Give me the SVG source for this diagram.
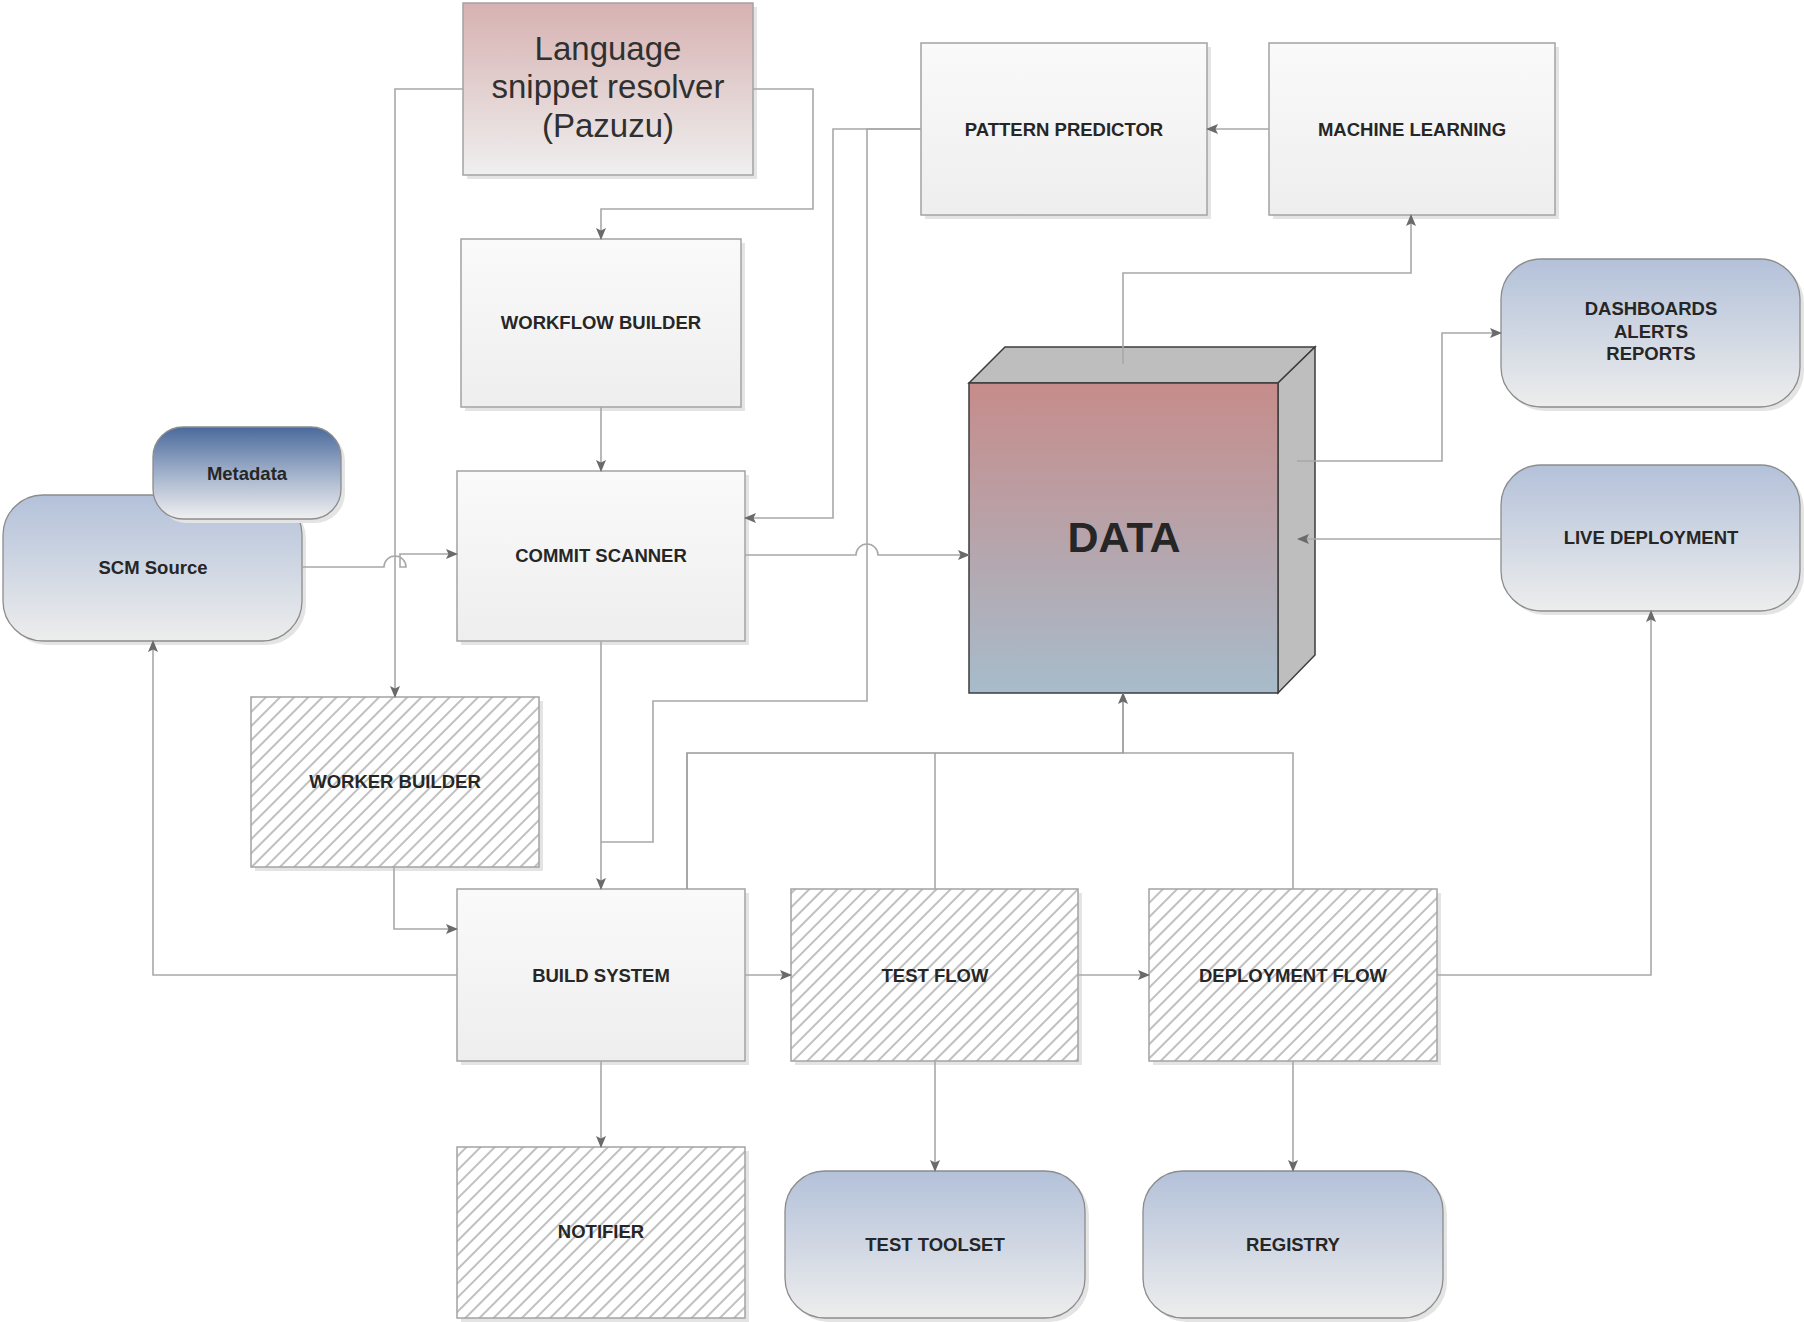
<svg xmlns="http://www.w3.org/2000/svg" width="1804" height="1322" viewBox="0 0 1804 1322">
<defs>
<linearGradient id="gBox" x1="0" y1="0" x2="0" y2="1"><stop offset="0" stop-color="#fafafa"/><stop offset="1" stop-color="#eeeeee"/></linearGradient>
<linearGradient id="gBlue" x1="0" y1="0" x2="0" y2="1"><stop offset="0" stop-color="#b3c1d9"/><stop offset="1" stop-color="#ededed"/></linearGradient>
<linearGradient id="gMeta" x1="0" y1="0" x2="0" y2="1"><stop offset="0" stop-color="#4a6a9c"/><stop offset="0.55" stop-color="#a9b7cf"/><stop offset="1" stop-color="#f0f0f0"/></linearGradient>
<linearGradient id="gLang" x1="0" y1="0" x2="0" y2="1"><stop offset="0" stop-color="#d7b1b1"/><stop offset="1" stop-color="#efefef"/></linearGradient>
<linearGradient id="gData" x1="0" y1="0" x2="0" y2="1"><stop offset="0" stop-color="#c68c8a"/><stop offset="1" stop-color="#a7bccb"/></linearGradient>
<pattern id="hatch" patternUnits="userSpaceOnUse" width="10" height="10" patternTransform="rotate(45)"><rect width="10" height="10" fill="#ffffff"/><line x1="1" y1="0" x2="1" y2="10" stroke="#ababab" stroke-width="1.5"/></pattern>
<marker id="arr" viewBox="0 0 12 10" refX="11" refY="5" markerWidth="12" markerHeight="10" markerUnits="userSpaceOnUse" orient="auto"><path d="M0,0 L12,5 L0,10 L2.5,5 z" fill="#6a6a6a"/></marker>
</defs>
<style>
.box{fill:url(#gBox);stroke:#a3a3a3;stroke-width:1.5}
.hatch{fill:url(#hatch);stroke:#a3a3a3;stroke-width:1.5}
.blue{fill:url(#gBlue);stroke:#8c8c8c;stroke-width:1.3}
.shadow{fill:#e4e4e4}
.lbl{font-family:"Liberation Sans",Arial,Helvetica,sans-serif;font-weight:bold;font-size:18.5px;fill:#262626;text-anchor:middle}
.big{font-family:"Liberation Sans",Arial,Helvetica,sans-serif;font-size:33px;fill:#303030;text-anchor:middle}
.con{fill:none;stroke:#a8a8a8;stroke-width:1.6}
.conD{fill:none;stroke:#999999;stroke-width:1.7}
</style>
<rect width="1804" height="1322" fill="#ffffff"/>

<g id="node-language">
<rect class="shadow" x="467" y="7" width="290" height="172"/>
<rect x="463" y="3" width="290" height="172" fill="url(#gLang)" stroke="#a3a3a3" stroke-width="1.5"/>
<text class="big" x="608" y="60">Language</text>
<text class="big" x="608" y="98">snippet resolver</text>
<text class="big" x="608" y="137">(Pazuzu)</text>
</g>

<g id="node-workflow-builder">
<rect class="shadow" x="465" y="243" width="280" height="168"/>
<rect class="box" x="461" y="239" width="280" height="168"/>
<text class="lbl" x="601" y="329">WORKFLOW BUILDER</text>
</g>

<g id="node-pattern-predictor">
<rect class="shadow" x="925" y="47" width="286" height="172"/>
<rect class="box" x="921" y="43" width="286" height="172"/>
<text class="lbl" x="1064" y="136">PATTERN PREDICTOR</text>
</g>

<g id="node-machine-learning">
<rect class="shadow" x="1273" y="47" width="286" height="172"/>
<rect class="box" x="1269" y="43" width="286" height="172"/>
<text class="lbl" x="1412" y="136">MACHINE LEARNING</text>
</g>

<g id="node-dashboards">
<rect class="shadow" x="1505" y="263" width="299" height="148" rx="40"/>
<rect class="blue" x="1501" y="259" width="299" height="148" rx="40"/>
<text class="lbl" x="1651" y="315">DASHBOARDS</text>
<text class="lbl" x="1651" y="338">ALERTS</text>
<text class="lbl" x="1651" y="360">REPORTS</text>
</g>

<g id="node-data">
<polygon points="969,383 1005,347 1315,347 1278,383" fill="#bebebe" stroke="#3c3c3c" stroke-width="1.5"/>
<polygon points="1278,383 1315,347 1315,655 1278,693" fill="#bebebe" stroke="#3c3c3c" stroke-width="1.5"/>
<rect x="969" y="383" width="309" height="310" fill="url(#gData)" stroke="#3c3c3c" stroke-width="1.5"/>
<text x="1124" y="552" font-family="Liberation Sans,Arial,Helvetica,sans-serif" font-weight="bold" font-size="43" fill="#262626" text-anchor="middle">DATA</text>
</g>

<g id="node-live-deployment">
<rect class="shadow" x="1505" y="469" width="299" height="146" rx="40"/>
<rect class="blue" x="1501" y="465" width="299" height="146" rx="40"/>
<text class="lbl" x="1651" y="544">LIVE DEPLOYMENT</text>
</g>

<g id="node-scm-source">
<rect class="shadow" x="7" y="499" width="299" height="146" rx="40"/>
<rect class="blue" x="3" y="495" width="299" height="146" rx="40"/>
<text class="lbl" x="153" y="574">SCM Source</text>
</g>

<g id="node-metadata">
<rect class="shadow" x="157" y="431" width="188" height="92" rx="30"/>
<rect x="153" y="427" width="188" height="92" rx="30" fill="url(#gMeta)" stroke="#8c8c8c" stroke-width="1.3"/>
<text class="lbl" x="247" y="480">Metadata</text>
</g>

<g id="node-commit-scanner">
<rect class="shadow" x="461" y="475" width="288" height="170"/>
<rect class="box" x="457" y="471" width="288" height="170"/>
<text class="lbl" x="601" y="562">COMMIT SCANNER</text>
</g>

<g id="node-worker-builder">
<rect class="shadow" x="255" y="701" width="288" height="170"/>
<rect class="hatch" x="251" y="697" width="288" height="170"/>
<text class="lbl" x="395" y="788">WORKER BUILDER</text>
</g>

<g id="node-build-system">
<rect class="shadow" x="461" y="893" width="288" height="172"/>
<rect class="box" x="457" y="889" width="288" height="172"/>
<text class="lbl" x="601" y="982">BUILD SYSTEM</text>
</g>

<g id="node-test-flow">
<rect class="shadow" x="795" y="893" width="287" height="172"/>
<rect class="hatch" x="791" y="889" width="287" height="172"/>
<text class="lbl" x="935" y="982">TEST FLOW</text>
</g>

<g id="node-deployment-flow">
<rect class="shadow" x="1153" y="893" width="288" height="172"/>
<rect class="hatch" x="1149" y="889" width="288" height="172"/>
<text class="lbl" x="1293" y="982">DEPLOYMENT FLOW</text>
</g>

<g id="node-notifier">
<rect class="shadow" x="461" y="1151" width="288" height="171"/>
<rect class="hatch" x="457" y="1147" width="288" height="171"/>
<text class="lbl" x="601" y="1238">NOTIFIER</text>
</g>

<g id="node-test-toolset">
<rect class="shadow" x="789" y="1175" width="300" height="147" rx="40"/>
<rect class="blue" x="785" y="1171" width="300" height="147" rx="40"/>
<text class="lbl" x="935" y="1251">TEST TOOLSET</text>
</g>

<g id="node-registry">
<rect class="shadow" x="1147" y="1175" width="300" height="147" rx="40"/>
<rect class="blue" x="1143" y="1171" width="300" height="147" rx="40"/>
<text class="lbl" x="1293" y="1251">REGISTRY</text>
</g>

<g id="connectors">
<path class="con" d="M463,89 H395 V697" marker-end="url(#arr)"/>
<path class="con" d="M753,89 H813 V209 H601 V239" marker-end="url(#arr)"/>
<path class="con" d="M601,407 V471" marker-end="url(#arr)"/>
<path class="con" d="M302,567 H384 A11,11 0 0 1 406,567 H400 V554 H457" marker-end="url(#arr)"/>
<path class="con" d="M921,129 H833 V518 H745" marker-end="url(#arr)"/>
<path class="con" d="M921,129 H867 V701 H653 V842 H601"/>
<path class="con" d="M601,641 V889" marker-end="url(#arr)"/>
<path class="con" d="M745,555 H856 A11,11 0 0 1 878,555 H969" marker-end="url(#arr)"/>
<path class="con" d="M1269,129 H1207" marker-end="url(#arr)"/>
<path class="con" d="M1123,364 V273 H1411 V215" marker-end="url(#arr)"/>
<path class="con" d="M1297,461 H1442 V333 H1501" marker-end="url(#arr)"/>
<path class="con" d="M1501,539 H1298" marker-end="url(#arr)"/>
<path class="con" d="M935,889 V753"/>
<path class="con" d="M1293,889 V753 H1123"/>
<path class="conD" d="M687,889 V753 H1123 V693" marker-end="url(#arr)"/>
<path class="con" d="M394,867 V929 H457" marker-end="url(#arr)"/>
<path class="con" d="M457,975 H153 V641" marker-end="url(#arr)"/>
<path class="con" d="M745,975 H791" marker-end="url(#arr)"/>
<path class="con" d="M1078,975 H1149" marker-end="url(#arr)"/>
<path class="con" d="M1437,975 H1651 V611" marker-end="url(#arr)"/>
<path class="con" d="M601,1061 V1147" marker-end="url(#arr)"/>
<path class="con" d="M935,1061 V1171" marker-end="url(#arr)"/>
<path class="con" d="M1293,1061 V1171" marker-end="url(#arr)"/>
</g>
</svg>
